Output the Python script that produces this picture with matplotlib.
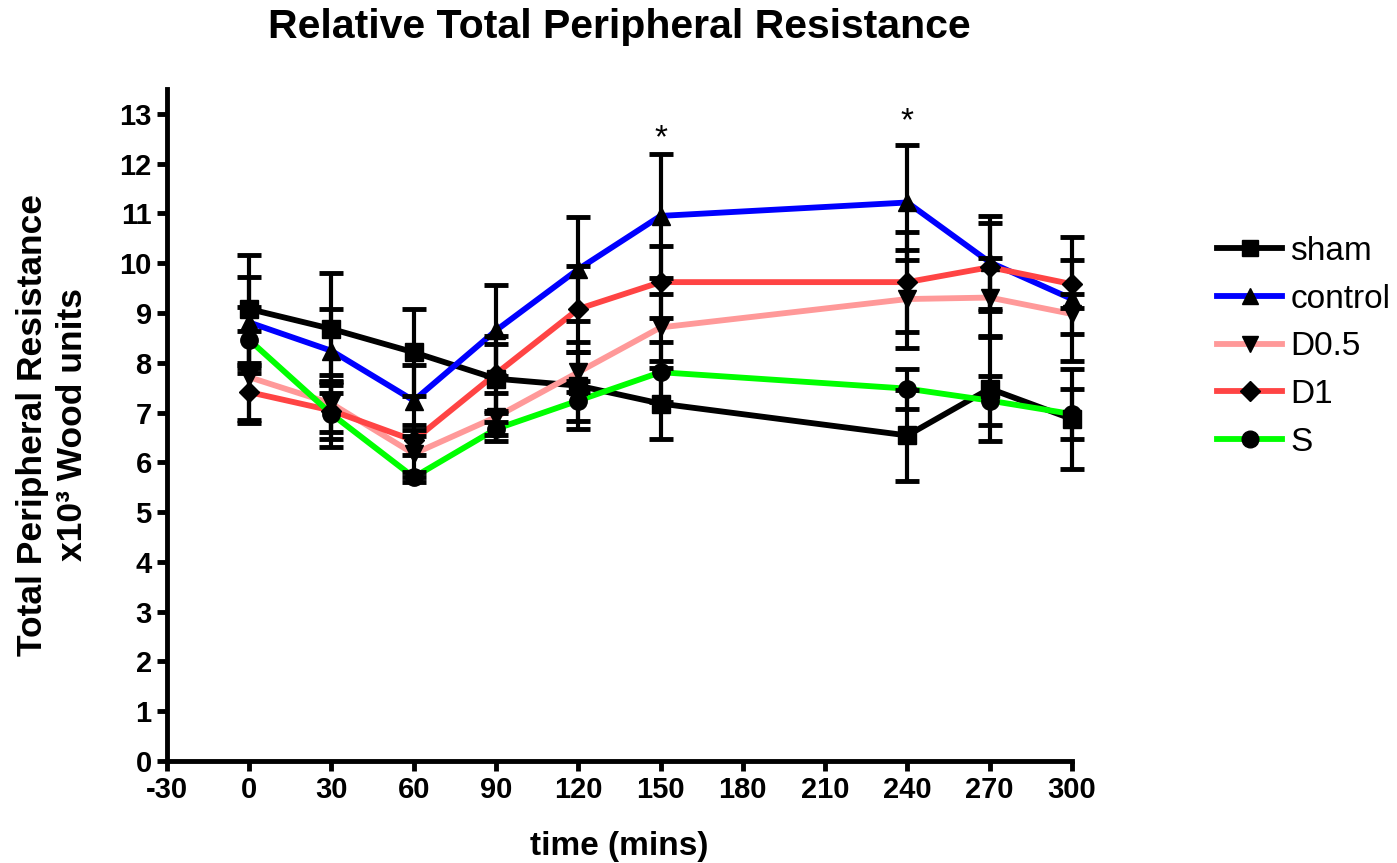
import numpy as np
import matplotlib
matplotlib.use("Agg")
import matplotlib.pyplot as plt

plt.rcParams['font.family'] = ['Liberation Sans', 'DejaVu Sans']
plt.rcParams['axes.unicode_minus'] = False

# time points (mins) and group means / SEM
times = [0, 30, 60, 90, 120, 150, 240, 270, 300]

sham = [9.08, 8.68, 8.21, 7.68, 7.54, 7.18, 6.54, 7.48, 6.87]
sham_err = [1.08, 1.12, 0.88, 0.69, 0.87, 0.71, 0.92, 1.05, 1.00]

control = [8.81, 8.24, 7.24, 8.65, 9.88, 10.95, 11.22, 10.02, 9.28]
control_err = [0.92, 0.85, 0.72, 0.91, 1.05, 1.24, 1.16, 0.93, 1.25]

d05 = [7.71, 7.18, 6.17, 6.91, 7.81, 8.71, 9.28, 9.31, 8.98]
d05_err = [0.92, 0.58, 0.47, 0.48, 0.40, 0.68, 0.98, 0.80, 0.40]

d1 = [7.41, 7.04, 6.44, 7.78, 9.08, 9.62, 9.62, 9.92, 9.58]
d1_err = [0.55, 0.57, 0.30, 0.75, 0.87, 0.72, 1.00, 0.88, 0.48]

s = [8.46, 6.97, 5.70, 6.67, 7.24, 7.81, 7.48, 7.24, 6.97]
s_err = [0.66, 0.66, 0.10, 0.13, 0.40, 0.60, 0.40, 0.50, 0.50]

star_times = [150, 240]
star_y = [12.5, 12.85]

groups = [
    ("sham", sham, sham_err, "#000000", "s"),
    ("control", control, control_err, "#0000ff", "^"),
    ("D0.5", d05, d05_err, "#ff9999", "v"),
    ("D1", d1, d1_err, "#ff4444", "D"),
    ("S", s, s_err, "#00ff00", "o"),
]

fig = plt.figure(figsize=(13.97, 8.63), dpi=100)
ax = fig.add_axes([0.1195, 0.1182, 0.6478, 0.7787])

for i, (name, vals, err, col, mk) in enumerate(groups):
    ax.plot(times, vals, color=col, lw=4.2, zorder=2 + i, clip_on=False)
    eb = ax.errorbar(times, vals, yerr=err, fmt='none', ecolor='black', elinewidth=3,
                     capsize=8.5, capthick=3.5, zorder=10)
    for art in eb.lines[1] + eb.lines[2]:
        art.set_clip_on(False)
    ms = 10.5 if mk == 'D' else 12.5
    ax.plot(times, vals, linestyle='none', marker=mk, markersize=ms,
            color='black', zorder=20, clip_on=False)

# legend handles: coloured line with black marker
handles = []
for name, vals, err, col, mk in groups:
    h, = ax.plot([], [], color=col, lw=4.2, marker=mk, markersize=10 if mk == 'D' else 12,
                 markerfacecolor='black', markeredgecolor='black')
    handles.append(h)
fig.legend(handles, [g[0] for g in groups], loc='upper left',
           bbox_to_anchor=(1217 / 1397, 1 - 236 / 863), frameon=False,
           fontsize=24, handlelength=1.95, handletextpad=0.25, labelspacing=0.5,
           borderpad=0, borderaxespad=0)

for t, y in zip(star_times, star_y):
    ax.text(t, y, "*", ha='center', va='center', fontsize=24)

ax.set_xlim(-30, 300)
ax.set_ylim(0, 13.5)
ax.set_xticks(np.arange(-30, 301, 30))
ax.set_yticks(np.arange(0, 14, 1))

for side in ['top', 'right']:
    ax.spines[side].set_visible(False)
for side in ['left', 'bottom']:
    ax.spines[side].set_linewidth(3.5)
    ax.spines[side].set_capstyle('projecting')

ax.tick_params(axis='both', direction='out', length=7, width=3.5, labelsize=21, pad=4)
for lab in ax.get_xticklabels() + ax.get_yticklabels():
    lab.set_fontweight('bold')

ax.set_xlabel("time (mins)", fontsize=24, fontweight='bold', labelpad=19)
ax.set_ylabel("Total Peripheral Resistance\nx10³ Wood units", fontsize=25.5,
              fontweight='bold', labelpad=22, linespacing=1.25)
fig.suptitle("Relative Total Peripheral Resistance", x=(167 + 1072) / 2 / 1397,
             y=1 - 8 / 863, va='top', fontsize=29.5, fontweight='bold')

fig.savefig("out.png", dpi=100)
